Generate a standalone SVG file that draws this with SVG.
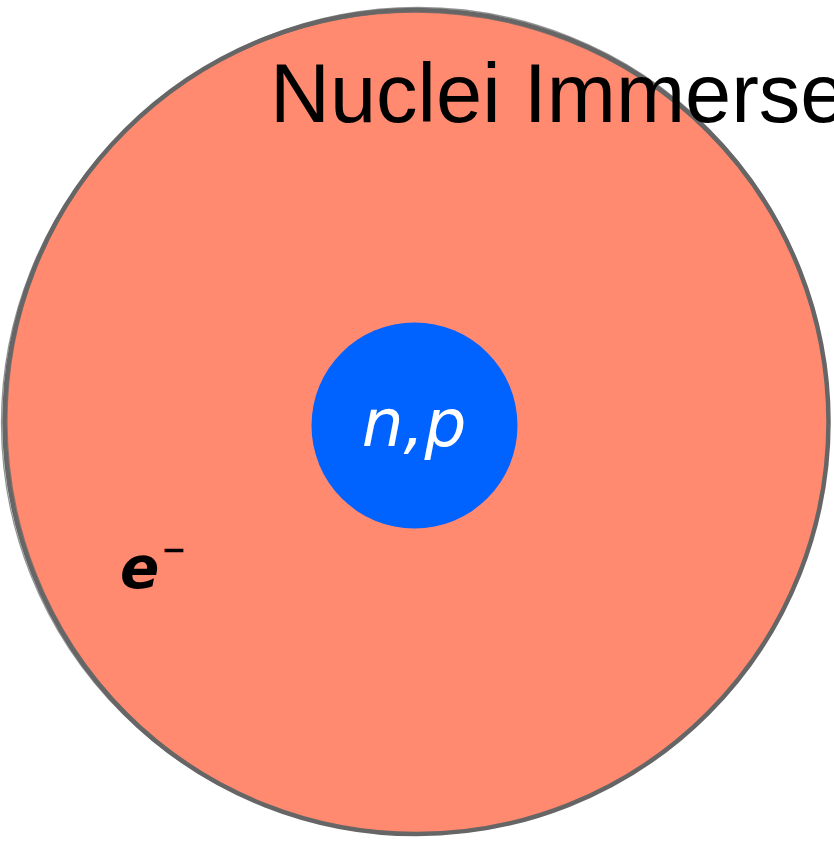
<svg xmlns="http://www.w3.org/2000/svg" width="834" height="846" viewBox="0 0 834 846">
<style>
.title{font-family:"Liberation Sans",Arial,sans-serif;font-size:83px;fill:#000}
.hand{font-family:"DejaVu Sans","Noto Sans",sans-serif;font-style:italic}
.sk{fill:none;stroke:#666;stroke-linecap:round}
</style>
<rect width="834" height="846" fill="#fff"/>
<g id="electron-gas">
<circle cx="416.5" cy="422" r="412" fill="#FF8A70"/>
<circle class="sk" cx="416.5" cy="422" r="412" stroke-width="4.5"/>
<ellipse class="sk" cx="418" cy="421" rx="411" ry="413.5" stroke-width="1.3" opacity="0.7"/>
<ellipse class="sk" cx="415" cy="423" rx="413.5" ry="411" stroke-width="1.3" opacity="0.7"/>
<text class="hand" x="120" y="588" font-size="58" font-weight="bold" fill="#000">e<tspan dx="2" dy="-28" font-size="30">−</tspan></text>
</g>
<g id="title">
<text class="title" x="270" y="122">Nuclei Immerse</text>
</g>
<g id="nucleus">
<circle cx="414.5" cy="425.5" r="103" fill="#0062FF"/>
<text class="hand" x="414" y="446" font-size="66" fill="#fff" text-anchor="middle">n,p</text>
</g>
<g id="connectors"/>
</svg>
